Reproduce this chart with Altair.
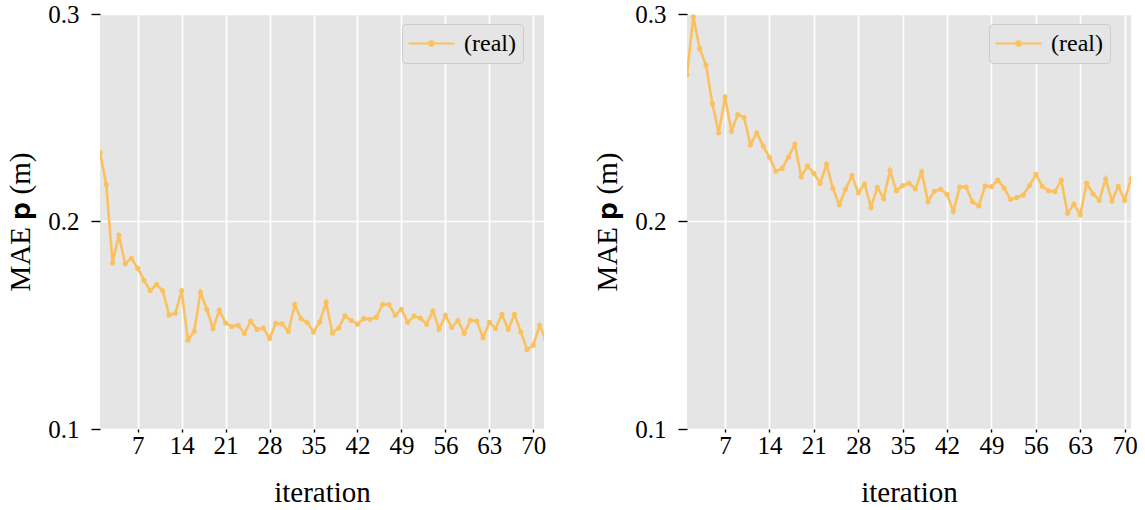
import altair as alt
import pandas as pd

# ---- data ----
iters_left = list(range(1, 73))
mae_left = [0.2334, 0.2178, 0.180, 0.1935, 0.1796, 0.1823, 0.1775, 0.1717, 0.1667, 0.1696,
            0.1666, 0.155, 0.1558, 0.1667, 0.1429, 0.1471, 0.1659, 0.1577, 0.1484, 0.1573,
            0.1511, 0.1494, 0.150, 0.146, 0.152, 0.148, 0.1487, 0.1436, 0.151, 0.1507,
            0.147, 0.160, 0.1532, 0.1513, 0.1468, 0.1516, 0.161, 0.1463, 0.1487, 0.1545,
            0.1523, 0.1505, 0.1532, 0.1529, 0.1539, 0.160, 0.160, 0.1548, 0.1577, 0.1514,
            0.1544, 0.1535, 0.1505, 0.1569, 0.1481, 0.1548, 0.149, 0.1523, 0.1462, 0.1524,
            0.152, 0.144, 0.1514, 0.1484, 0.1553, 0.148, 0.1553, 0.1468, 0.1383, 0.1404,
            0.150, 0.143]
iters_right = list(range(1, 72))
mae_right = [0.2707, 0.2987, 0.2833, 0.2753, 0.2568, 0.2428, 0.2601, 0.2435, 0.2515, 0.2502,
             0.237, 0.2428, 0.2364, 0.2309, 0.2242, 0.2256, 0.2311, 0.2373, 0.2216, 0.2267,
             0.2232, 0.2184, 0.2276, 0.216, 0.2081, 0.2155, 0.2221, 0.2139, 0.2181, 0.2068,
             0.2165, 0.211, 0.2247, 0.2148, 0.2173, 0.2184, 0.2158, 0.2239, 0.2095, 0.2146,
             0.2155, 0.2131, 0.2049, 0.2166, 0.2166, 0.2095, 0.2075, 0.2171, 0.2168, 0.22,
             0.216, 0.2107, 0.2115, 0.2128, 0.2173, 0.2227, 0.217, 0.2148, 0.2144, 0.2199,
             0.204, 0.2084, 0.2033, 0.2184, 0.2134, 0.2102, 0.2205, 0.2099, 0.217, 0.2102,
             0.2206]
series_label = "(real)"
x_ticks = [7, 14, 21, 28, 35, 42, 49, 56, 63, 70]
y_ticks = [0.1, 0.2, 0.3]
x_title = "iteration"
y_title = "MAE \U0001D429 (m)"

COLOR = "#FBC15E"
FONT = "Liberation Serif"
LEGEND_SYMBOL = ("M-2,0H2M-0.19,0a0.19,0.19 0 1,0 0.38,0"
                 "a0.19,0.19 0 1,0 -0.38,0")


def panel(x, y, xmax):
    df = pd.DataFrame({"iteration": x, "mae": y, "series": series_label})
    xs = alt.X("iteration:Q",
               scale=alt.Scale(domain=[1, xmax], nice=False, zero=False),
               axis=alt.Axis(values=x_ticks, title=x_title))
    ys = alt.Y("mae:Q",
               scale=alt.Scale(domain=[0.1, 0.3], nice=False, zero=False),
               axis=alt.Axis(values=y_ticks, format=".1f", title=y_title))
    color = alt.Color(
        "series:N",
        scale=alt.Scale(range=[COLOR]),
        legend=alt.Legend(
            title=None, orient="none", legendX=302, legendY=10,
            fillColor="#E5E5E5", strokeColor="#CCCCCC", cornerRadius=4,
            padding=7, symbolType=LEGEND_SYMBOL, symbolSize=529,
            symbolStrokeWidth=2, symbolFillColor=COLOR, labelOffset=20,
            symbolOffset=10,
            labelFont=FONT, labelFontSize=24, labelColor="black"))
    line = alt.Chart(df).mark_line(strokeWidth=2.6, clip=True).encode(
        x=xs, y=ys, color=color)
    pts = alt.Chart(df).mark_circle(size=26, opacity=1, clip=True).encode(
        x=xs, y=ys, color=alt.value(COLOR))
    return alt.layer(line, pts).properties(width=444, height=415)


left = panel(iters_left, mae_left, 71.7)
right = panel(iters_right, mae_right, 71)

chart = alt.hconcat(left, right, spacing=47).resolve_scale(
    color="independent"
).properties(
    padding={"left": 6, "top": 2, "right": 5, "bottom": 5}
).configure_view(fill="#E5E5E5", strokeWidth=0).configure_axis(
    domain=False, grid=True, gridColor="white", gridWidth=1.6,
    tickColor="black", tickSize=9, tickWidth=1.4,
    labelFont=FONT, labelFontSize=25, labelColor="black", labelPadding=12,
    titleFont=FONT, titleFontSize=29, titleFontWeight="normal", titleColor="black",
    titlePadding=12
).configure_axisX(tickSize=3, labelPadding=1, titlePadding=20)

chart.save("out.html", embed_options={"renderer": "svg", "actions": False})
